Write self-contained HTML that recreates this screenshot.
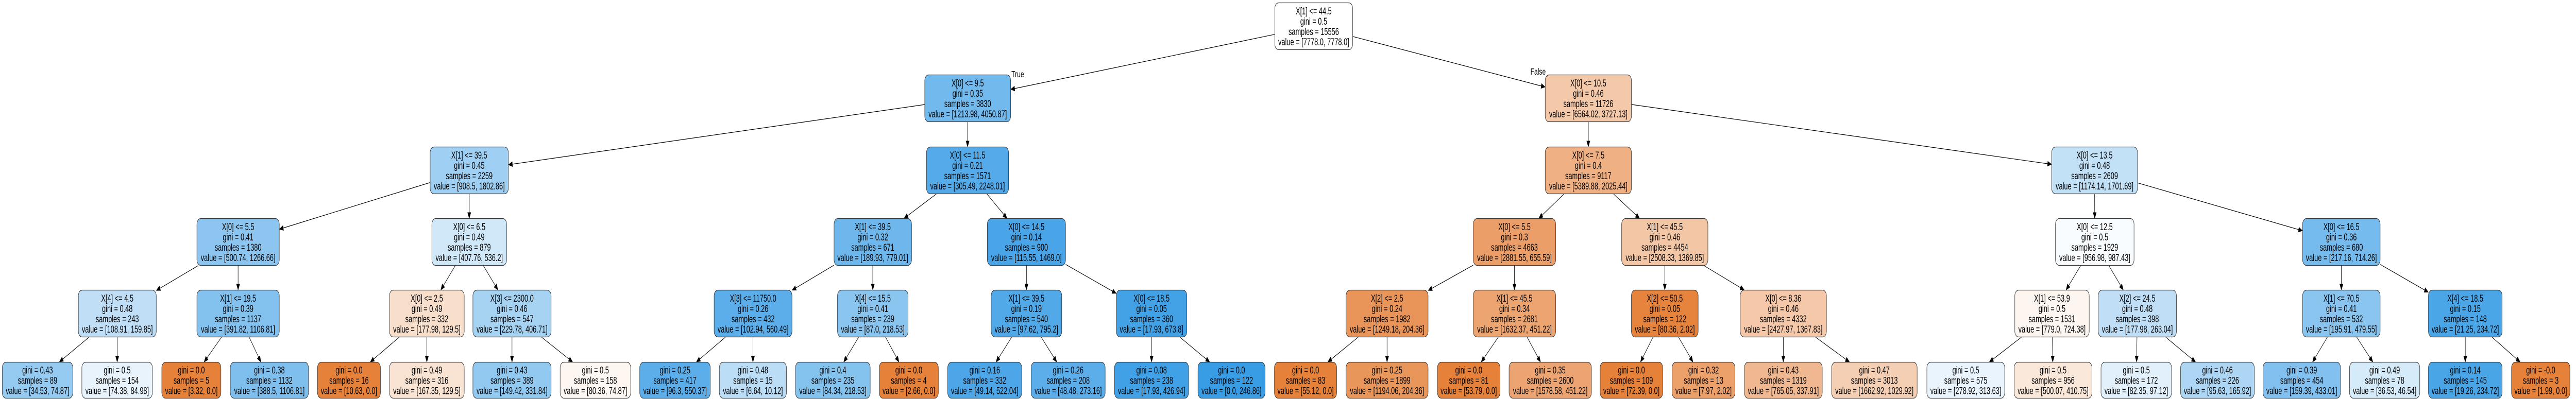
<!DOCTYPE html>
<html><head><meta charset="utf-8">
<meta name="viewport" content="width=7411">
<style>
html,body{margin:0;padding:0;background:#fff;width:100%;height:100%;overflow:hidden;}
svg{display:block;position:absolute;left:0;top:0;width:100vw;height:100vh;}
text{font-family:"Liberation Sans",Arial,sans-serif;font-size:19px;fill:#000;}
</style></head><body>
<svg id="s" viewBox="0 0 7411 775" preserveAspectRatio="none" xmlns="http://www.w3.org/2000/svg"></svg>
<script>
var OR='#e58139';
var tops=[5,145,285,424,563,703];
var N={
root:[3667,3892,0,'#ffffff',['X[1] <= 44.5','gini = 0.5','samples = 15556','value = [7778.0, 7778.0]']],
a:[2660,2908,1,'#72b9ed',['X[0] <= 9.5','gini = 0.35','samples = 3830','value = [1213.98, 4050.87]']],
b:[4445,4694,1,'#f4c9aa',['X[0] <= 10.5','gini = 0.46','samples = 11726','value = [6564.02, 3727.13]']],
a1:[1237,1463,2,'#9fcff2',['X[1] <= 39.5','gini = 0.45','samples = 2259','value = [908.5, 1802.86]']],
a2:[2665,2902,2,'#55abe9',['X[0] <= 11.5','gini = 0.21','samples = 1571','value = [305.49, 2248.01]']],
b1:[4445,4694,2,'#efb083',['X[0] <= 7.5','gini = 0.4','samples = 9117','value = [5389.88, 2025.44]']],
b2:[5902,6150,2,'#c2e1f7',['X[0] <= 13.5','gini = 0.48','samples = 2609','value = [1174.14, 1701.69]']],
a11:[566,804,3,'#8bc5f0',['X[0] <= 5.5','gini = 0.41','samples = 1380','value = [500.74, 1266.66]']],
a12:[1242,1458,3,'#d1e8f9',['X[0] <= 6.5','gini = 0.49','samples = 879','value = [407.76, 536.2]']],
a21:[2399,2623,3,'#6db7ec',['X[1] <= 39.5','gini = 0.32','samples = 671','value = [189.93, 779.01]']],
a22:[2840,3066,3,'#49a5e7',['X[0] <= 14.5','gini = 0.14','samples = 900','value = [115.55, 1469.0]']],
b11:[4238,4476,3,'#eb9e67',['X[0] <= 5.5','gini = 0.3','samples = 4663','value = [2881.55, 655.59]']],
b12:[4665,4914,3,'#f3c6a5',['X[1] <= 45.5','gini = 0.46','samples = 4454','value = [2508.33, 1369.85]']],
b21:[5913,6140,3,'#f9fcfe',['X[0] <= 12.5','gini = 0.5','samples = 1929','value = [956.98, 987.43]']],
b22:[6624,6848,3,'#75bbed',['X[0] <= 16.5','gini = 0.36','samples = 680','value = [217.16, 714.26]']],
c1:[225,450,4,'#c0dff7',['X[4] <= 4.5','gini = 0.48','samples = 243','value = [108.91, 159.85]']],
c2:[566,804,4,'#83c1ef',['X[1] <= 19.5','gini = 0.39','samples = 1137','value = [391.82, 1106.81]']],
c3:[1120,1336,4,'#f8dfcc',['X[0] <= 2.5','gini = 0.49','samples = 332','value = [177.98, 129.5]']],
c4:[1360,1586,4,'#a7d3f3',['X[3] <= 2300.0','gini = 0.46','samples = 547','value = [229.78, 406.71]']],
c5:[2054,2279,4,'#5baeea',['X[3] <= 11750.0','gini = 0.26','samples = 432','value = [102.94, 560.49]']],
c6:[2409,2613,4,'#8ac5f0',['X[4] <= 15.5','gini = 0.41','samples = 239','value = [87.0, 218.53]']],
c7:[2851,3055,4,'#51a9e8',['X[1] <= 39.5','gini = 0.19','samples = 540','value = [97.62, 795.2]']],
c8:[3211,3415,4,'#43a2e6',['X[0] <= 18.5','gini = 0.05','samples = 360','value = [17.93, 673.8]']],
c9:[3872,4109,4,'#e99559',['X[2] <= 2.5','gini = 0.24','samples = 1982','value = [1249.18, 204.36]']],
c10:[4238,4476,4,'#eca470',['X[1] <= 45.5','gini = 0.34','samples = 2681','value = [1632.37, 451.22]']],
c11:[4693,4886,4,'#e6843e',['X[2] <= 50.5','gini = 0.05','samples = 122','value = [80.36, 2.02]']],
c12:[5006,5255,4,'#f4c8a8',['X[0] <= 8.36','gini = 0.46','samples = 4332','value = [2427.97, 1367.83]']],
c13:[5796,6011,4,'#fdf6f0',['X[1] <= 53.9','gini = 0.5','samples = 1531','value = [779.0, 724.38]']],
c14:[6036,6262,4,'#c0dff7',['X[2] <= 24.5','gini = 0.48','samples = 398','value = [177.98, 263.04]']],
c15:[6624,6848,4,'#8ac5f0',['X[1] <= 70.5','gini = 0.41','samples = 532','value = [195.91, 479.55]']],
c16:[6986,7199,4,'#4ba6e7',['X[4] <= 18.5','gini = 0.15','samples = 148','value = [21.25, 234.72]']],
l1:[6,210,5,'#95cbf1',['gini = 0.43','samples = 89','value = [34.53, 74.87]']],
l2:[235,439,5,'#e8f3fc',['gini = 0.5','samples = 154','value = [74.38, 84.98]']],
l3:[465,636,5,OR,['gini = 0.0','samples = 5','value = [3.32, 0.0]']],
l4:[662,888,5,'#7fbfee',['gini = 0.38','samples = 1132','value = [388.5, 1106.81]']],
l5:[913,1095,5,OR,['gini = 0.0','samples = 16','value = [10.63, 0.0]']],
l6:[1120,1336,5,'#f9e3d3',['gini = 0.49','samples = 316','value = [167.35, 129.5]']],
l7:[1360,1586,5,'#91c9f1',['gini = 0.43','samples = 389','value = [149.42, 331.84]']],
l8:[1611,1815,5,'#fdf6f1',['gini = 0.5','samples = 158','value = [80.36, 74.87]']],
l9:[1840,2044,5,'#5caeea',['gini = 0.25','samples = 417','value = [96.3, 550.37]']],
l10:[2069,2263,5,'#bbddf6',['gini = 0.48','samples = 15','value = [6.64, 10.12]']],
l11:[2288,2504,5,'#85c3ef',['gini = 0.4','samples = 235','value = [84.34, 218.53]']],
l12:[2529,2700,5,OR,['gini = 0.0','samples = 4','value = [2.66, 0.0]']],
l13:[2726,2940,5,'#4ca6e7',['gini = 0.16','samples = 332','value = [49.14, 522.04]']],
l14:[2966,3180,5,'#5caeea',['gini = 0.26','samples = 208','value = [48.48, 273.16]']],
l15:[3206,3420,5,'#41a1e6',['gini = 0.08','samples = 238','value = [17.93, 426.94]']],
l16:[3446,3640,5,'#399de5',['gini = 0.0','samples = 122','value = [0.0, 246.86]']],
l17:[3666,3846,5,OR,['gini = 0.0','samples = 83','value = [55.12, 0.0]']],
l18:[3872,4109,5,'#e9965a',['gini = 0.25','samples = 1899','value = [1194.06, 204.36]']],
l19:[4135,4316,5,OR,['gini = 0.0','samples = 81','value = [53.79, 0.0]']],
l20:[4341,4579,5,'#eca572',['gini = 0.35','samples = 2600','value = [1578.58, 451.22]']],
l21:[4603,4784,5,OR,['gini = 0.0','samples = 109','value = [72.39, 0.0]']],
l22:[4810,4992,5,'#eca06a',['gini = 0.32','samples = 13','value = [7.97, 2.02]']],
l23:[5018,5243,5,'#f0b890',['gini = 0.43','samples = 1319','value = [765.05, 337.91]']],
l24:[5269,5516,5,'#f5cfb4',['gini = 0.47','samples = 3013','value = [1662.92, 1029.92]']],
l25:[5543,5768,5,'#e9f4fc',['gini = 0.5','samples = 575','value = [278.92, 313.63]']],
l26:[5794,6019,5,'#fae8db',['gini = 0.5','samples = 956','value = [500.07, 410.75]']],
l27:[6044,6248,5,'#e1f0fb',['gini = 0.5','samples = 172','value = [82.35, 97.12]']],
l28:[6273,6486,5,'#acd6f4',['gini = 0.46','samples = 226','value = [95.63, 165.92]']],
l29:[6510,6734,5,'#82c1ef',['gini = 0.39','samples = 454','value = [159.39, 433.01]']],
l30:[6759,6962,5,'#d6ebfa',['gini = 0.49','samples = 78','value = [36.53, 46.54]']],
l31:[6986,7199,5,'#4aa5e7',['gini = 0.14','samples = 145','value = [19.26, 234.72]']],
l32:[7225,7394,5,OR,['gini = -0.0','samples = 3','value = [1.99, 0.0]']]
};
var E=[['root','a'],['root','b'],['a','a1'],['a','a2'],['b','b1'],['b','b2'],
['a1','a11'],['a1','a12'],['a2','a21'],['a2','a22'],['b1','b11'],['b1','b12'],['b2','b21'],['b2','b22'],
['a11','c1'],['a11','c2'],['a12','c3'],['a12','c4'],['a21','c5'],['a21','c6'],['a22','c7'],['a22','c8'],
['b11','c9'],['b11','c10'],['b12','c11'],['b12','c12'],['b21','c13'],['b21','c14'],['b22','c15'],['b22','c16'],
['c1','l1'],['c1','l2'],['c2','l3'],['c2','l4'],['c3','l5'],['c3','l6'],['c4','l7'],['c4','l8'],
['c5','l9'],['c5','l10'],['c6','l11'],['c6','l12'],['c7','l13'],['c7','l14'],['c8','l15'],['c8','l16'],
['c9','l17'],['c9','l18'],['c10','l19'],['c10','l20'],['c11','l21'],['c11','l22'],['c12','l23'],['c12','l24'],
['c13','l25'],['c13','l26'],['c14','l27'],['c14','l28'],['c15','l29'],['c15','l30'],['c16','l31'],['c16','l32']];
function box(k){var n=N[k];var y=tops[n[2]];var h=n[2]==5?71:92;return {x1:n[0],x2:n[1],y1:y,y2:y+h,cx:(n[0]+n[1])/2,cy:y+h/2};}
function clip(b,dx,dy){var hw=(b.x2-b.x1)/2,hh=(b.y2-b.y1)/2;var t=Infinity;
if(dx!==0)t=Math.min(t,hw/Math.abs(dx));if(dy!==0)t=Math.min(t,hh/Math.abs(dy));return t;}
var out='';
E.forEach(function(e){var p=box(e[0]),c=box(e[1]);var dx=c.cx-p.cx,dy=c.cy-p.cy;
var t1=clip(p,dx,dy),t2=clip(c,-dx,-dy);
var sx=p.cx+dx*t1,sy=p.cy+dy*t1,ex=c.cx-dx*t2,ey=c.cy-dy*t2;
var L=Math.sqrt((ex-sx)*(ex-sx)+(ey-sy)*(ey-sy));var ux=(ex-sx)/L,uy=(ey-sy)/L;
var bx=ex-ux*11,by=ey-uy*11;var px=-uy*4.5,py=ux*4.5;
out+='<line x1="'+sx+'" y1="'+sy+'" x2="'+bx+'" y2="'+by+'" stroke="#000" stroke-width="1.2"/>';
out+='<polygon points="'+ex+','+ey+' '+(bx+px)+','+(by+py)+' '+(bx-px)+','+(by-py)+'" fill="#000" stroke="#000"/>';});
for(var k in N){var n=N[k],b=box(k);
out+='<rect x="'+(b.x1+0.5)+'" y="'+(b.y1+0.5)+'" width="'+(b.x2-b.x1-1)+'" height="'+(b.y2-b.y1-1)+'" rx="11" ry="11" fill="'+n[3]+'" stroke="#333" stroke-width="1.2"/>';
var lines=n[4];var y0=b.cy-(lines.length-1)*10;
lines.forEach(function(s,i){out+='<text x="'+b.cx+'" y="'+(y0+i*20+7)+'" text-anchor="middle">'+s.replace(/</g,'&lt;')+'</text>';});}
out+='<text x="2928" y="150" text-anchor="middle" style="font-size:18px">True</text>';
out+='<text x="4425" y="145" text-anchor="middle" style="font-size:18px">False</text>';
document.getElementById('s').innerHTML=out;
</script>
</body></html>
